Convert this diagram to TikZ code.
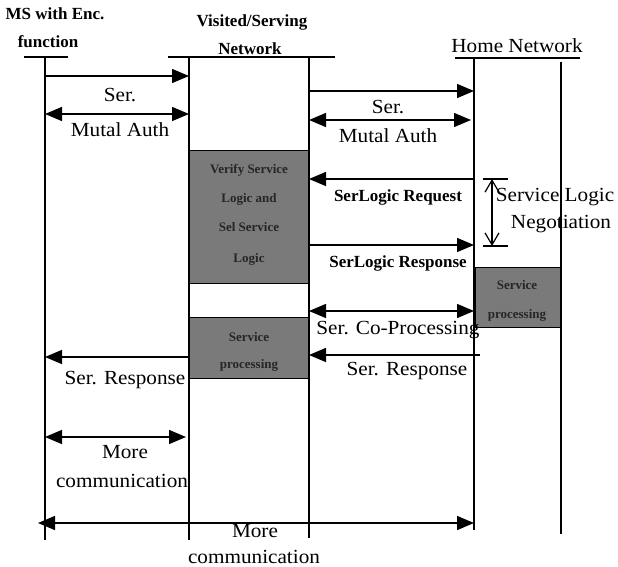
\documentclass[tikz,border=0pt]{standalone}
\usepackage{fontspec}
\setmainfont{Liberation Serif}
\newfontfamily\lblfont{Liberation Serif}[FakeStretch=1.06]
\usetikzlibrary{arrows.meta}
\begin{document}
\begin{tikzpicture}[x=1pt,y=-1pt,
  life/.style={line width=1.3pt},
  head/.style={line width=1.3pt},
  msg/.style={line width=1.4pt,-{Triangle[length=17pt,width=14pt]}},
  dmsg/.style={line width=1.4pt,{Triangle[length=17pt,width=14pt]}-{Triangle[length=17pt,width=14pt]}},
  lbl/.style={font=\lblfont\fontsize{20}{22}\selectfont,inner sep=0pt},
  slbl/.style={font=\fontsize{17}{19}\selectfont\bfseries,inner sep=0pt},
  hdr/.style={font=\fontsize{17}{19}\selectfont\bfseries,inner sep=0pt},
  proc/.style={fill=black!52,draw=black,line width=0.8pt},
  ptxt/.style={font=\fontsize{13}{15}\selectfont\bfseries,text=black!85,inner sep=0pt}]
\useasboundingbox (0,0) rectangle (618,567);
% lifeline x positions
\coordinate (ms) at (45,0);
\coordinate (vl) at (189,0);
\coordinate (vr) at (309,0);
\coordinate (hl) at (474,0);
\coordinate (hr) at (561,0);
% rows
\coordinate (r1) at (0,76);
\coordinate (r2) at (0,114);
\coordinate (r3) at (0,91);
\coordinate (r4) at (0,120);
\coordinate (r5) at (0,179);
\coordinate (r6) at (0,245);
\coordinate (r7) at (0,311);
\coordinate (r8) at (0,355);
\coordinate (r9) at (0,357);
\coordinate (r10) at (0,437);
\coordinate (r11) at (0,523);
\coordinate (h8) at (480,355);
\coordinate (b11) at (38,523);
\coordinate (m4) at (471,120);
\coordinate (m10) at (186,437);
% process boxes
\node[proc,minimum width=120pt,minimum height=133pt,inner sep=0pt] (p1) at (249,216.5) {};
\node[proc,minimum width=120pt,minimum height=61pt,inner sep=0pt] (p2) at (249,347.5) {};
\node[proc,minimum width=85pt,minimum height=60pt,inner sep=0pt] (p3) at (517.5,297) {};
\node[ptxt] (p1a) at (249,170) {Verify Service};
\node[ptxt] (p1b) at (249,199) {Logic and};
\node[ptxt] (p1c) at (249,227) {Sel Service};
\node[ptxt] (p1d) at (249,259) {Logic};
\node[ptxt] (p2a) at (249,337) {Service};
\node[ptxt] (p2b) at (249,365) {processing};
\node[ptxt] (p3a) at (517,285) {Service};
\node[ptxt] (p3b) at (517,315) {processing};
% headers
\node[hdr] (hms1) at (55,14) {MS with Enc.};
\node[hdr] (hms2) at (48,42) {function};
\node[hdr] (hv1) at (252,22) {Visited/Serving};
\node[hdr] (hv2) at (250,49) {Network};
\node[lbl] (hh) at (517,46) {Home Network};
\draw[head] (24,57) -- (68,57);
\draw[head] (168,57) -- (335,57);
\draw[head] (455,58) -- (580,58);
% lifelines
\draw[life] (45,57) -- (45,540);
\draw[life] (189,57) -- (189,540);
\draw[life] (309,57) -- (309,538);
\draw[life] (474,57) -- (474,530);
\draw[life] (561,62) -- (561,534);
% messages
\draw[msg] (ms |- r1) -- (vl |- r1);
\node[lbl] (l1) at (120,95) {Ser.};
\draw[dmsg] (ms |- r2) -- (vl |- r2);
\node[lbl] (l2) at (120,130) {Mutal Auth};
\draw[msg] (vr |- r3) -- (hl |- r3);
\node[lbl] (l3) at (388,107) {Ser.};
\draw[dmsg] (vr |- r4) -- (m4);
\node[lbl] (l4) at (388,136) {Mutal Auth};
\draw[msg] (hl |- r5) -- (vr |- r5);
\node[slbl] (l5) at (398,197) {SerLogic Request};
\draw[msg] (vr |- r6) -- (hl |- r6);
\node[slbl] (l6) at (398,263) {SerLogic Response};
\draw[dmsg] (vr |- r7) -- (hl |- r7);
\node[lbl] (l7) at (398,330) {Ser. Co-Processing};
\draw[msg] (h8) -- (vr |- r8);
\node[lbl] (l8) at (407,371) {Ser. Response};
\draw[msg] (vl |- r9) -- (ms |- r9);
\node[lbl] (l9) at (125,380) {Ser. Response};
\draw[dmsg] (ms |- r10) -- (m10);
\node[lbl] (l10a) at (125,452) {More};
\node[lbl] (l10b) at (122,481) {communication};
\draw[dmsg] (b11) -- (hl |- r11);
\node[lbl] (l11a) at (255,531) {More};
\node[lbl] (l11b) at (254,557) {communication};
% negotiation
\coordinate (n1) at (492,179);
\coordinate (n2) at (492,246);
\draw[line width=1.2pt] (483,179) -- (508,179);
\draw[line width=1.2pt] (483,246) -- (508,246);
\draw[line width=1.2pt,{Straight Barb[length=12pt,width=14pt]}-{Straight Barb[length=12pt,width=14pt]}] (n1) -- (n2);
\node[lbl] (n3) at (555,197) {Service Logic};
\node[lbl] (n4) at (561,224) {Negotiation};
\end{tikzpicture}
\end{document}
